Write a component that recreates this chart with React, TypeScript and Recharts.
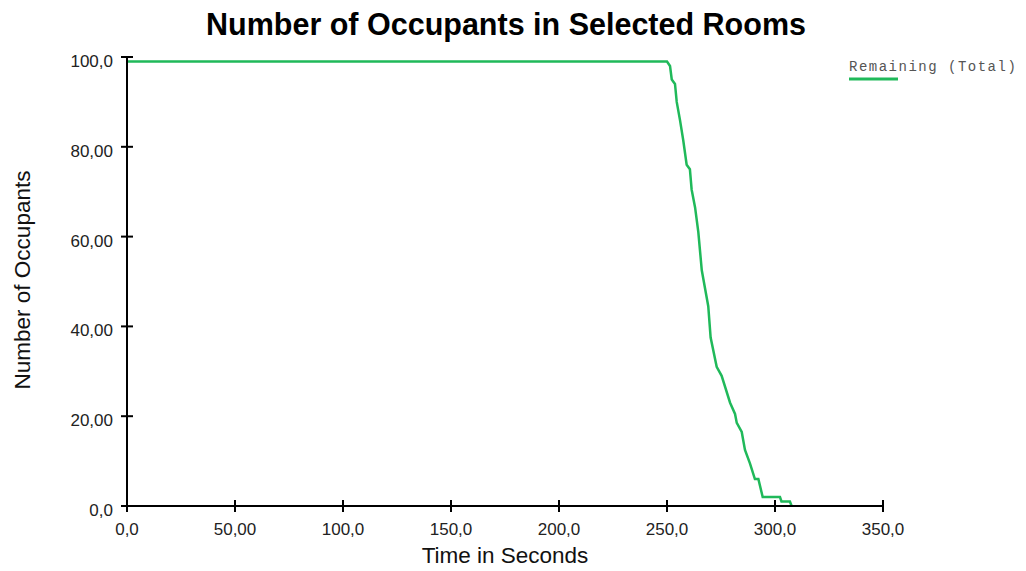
import { Line, LineChart, XAxis, YAxis } from "recharts";

// Remaining occupants over time (seconds)
const TIMES = [
  0, 250, 251.4, 252.2, 253.7, 254.5, 256, 257.5, 259.1, 260.6, 261.4, 263, 264.5, 266.1, 269.1, 270.2,
  273, 275.3, 279.2, 281.5, 282.3, 284.6, 286.1, 288.4, 290.7, 292.3, 294.3, 302.3, 303, 306.9, 307.7,
];
const REMAINING = [
  99, 99, 98, 95, 94, 90, 86, 81.5, 76, 75, 70.5, 66.5, 61, 52.5, 44.5, 37.5,
  31, 29, 23, 20.5, 18.5, 16.5, 12.5, 9.5, 6, 6, 2, 2, 1, 1, 0,
];

const X_TICKS = [0, 50, 100, 150, 200, 250, 300, 350];
const X_TICK_LABELS = ["0,0", "50,00", "100,0", "150,0", "200,0", "250,0", "300,0", "350,0"];
const Y_TICKS = [0, 20, 40, 60, 80, 100];
const Y_TICK_LABELS = ["0,0", "20,00", "40,00", "60,00", "80,00", "100,0"];

const data = TIMES.map((t, i) => ({ t, remaining: REMAINING[i] }));

const FONT = "'Liberation Sans', Arial, sans-serif";
const GREEN = "#20b95a";

function XTick({ x, y, payload }: any) {
  const label = X_TICK_LABELS[X_TICKS.indexOf(payload.value)];
  return (
    <g>
      <line x1={x} x2={x} y1={y - 16} y2={y - 4} stroke="#000" strokeWidth={2} />
      <text x={x} y={y + 19} textAnchor="middle" fontSize={17} fontFamily={FONT} fill="#222">
        {label}
      </text>
    </g>
  );
}

function YTick({ x, y, payload }: any) {
  const label = Y_TICK_LABELS[Y_TICKS.indexOf(payload.value)];
  return (
    <g>
      <line x1={x + 4} x2={x + 16} y1={y} y2={y} stroke="#000" strokeWidth={2} />
      <text x={x - 4} y={y + 10} textAnchor="end" fontSize={17} fontFamily={FONT} fill="#222">
        {label}
      </text>
    </g>
  );
}

export default function App() {
  return (
    <div style={{ position: "absolute", left: 0, top: 0, width: 1026, height: 571, background: "#fff" }}>
      <LineChart width={1026} height={571} data={data} margin={{ top: 57, right: 143, bottom: 25, left: 47 }}>
        <XAxis
          dataKey="t"
          type="number"
          domain={[0, 350]}
          ticks={X_TICKS}
          height={40}
          tickSize={6}
          tickMargin={4}
          tickLine={false}
          axisLine={{ stroke: "#000", strokeWidth: 2 }}
          tick={<XTick />}
          interval={0}
        />
        <YAxis
          type="number"
          domain={[0, 100]}
          ticks={Y_TICKS}
          width={80}
          tickSize={6}
          tickMargin={4}
          tickLine={false}
          axisLine={{ stroke: "#000", strokeWidth: 2 }}
          tick={<YTick />}
          interval={0}
        />
        <Line
          type="linear"
          dataKey="remaining"
          stroke={GREEN}
          strokeWidth={2.5}
          dot={false}
          isAnimationActive={false}
        />
        <text x={506} y={35} textAnchor="middle" fontSize={30.5} fontWeight="bold" fontFamily={FONT} fill="#000">
          Number of Occupants in Selected Rooms
        </text>
        <text x={505} y={563} textAnchor="middle" fontSize={22.5} fontFamily={FONT} fill="#111">
          Time in Seconds
        </text>
        <text
          x={30}
          y={280}
          transform="rotate(-90 30 280)"
          textAnchor="middle"
          fontSize={22.5}
          fontFamily={FONT}
          fill="#111"
        >
          Number of Occupants
        </text>
        <text x={849} y={71} fontSize={14} letterSpacing={1.5} fontFamily="'Liberation Mono', monospace" fill="#555">
          Remaining (Total)
        </text>
        <line x1={849} x2={898} y1={79} y2={79} stroke={GREEN} strokeWidth={3} />
      </LineChart>
    </div>
  );
}
